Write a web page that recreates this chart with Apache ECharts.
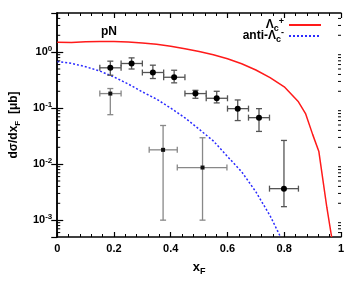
<!DOCTYPE html>
<html><head><meta charset="utf-8">
<script src="https://cdn.jsdelivr.net/npm/echarts@6/dist/echarts.min.js"></script>
<style>html,body{margin:0;padding:0;background:#fff}#c{width:360px;height:283px}</style>
</head><body><div id="c"></div>
<script>
// Theory curves
const lcPlusX   = [0, 0.05, 0.1, 0.15, 0.2, 0.25, 0.3, 0.35, 0.4, 0.45, 0.5, 0.55, 0.6, 0.65, 0.7, 0.75, 0.8, 0.85, 0.875, 0.9, 0.922, 0.95, 0.967];
const lcPlusY   = [1.5, 1.48, 1.53, 1.55, 1.55, 1.52, 1.46, 1.38, 1.28, 1.15, 1.03, 0.9, 0.76, 0.62, 0.48, 0.35, 0.24, 0.13, 0.08, 0.034, 0.0168, 0.0017, 0.0005];
const antiLcX   = [0, 0.05, 0.1, 0.15, 0.2, 0.25, 0.3, 0.35, 0.4, 0.45, 0.5, 0.55, 0.6, 0.65, 0.7, 0.75, 0.787];
const antiLcY   = [0.68, 0.63, 0.55, 0.46, 0.36, 0.27, 0.195, 0.145, 0.1, 0.067, 0.042, 0.026, 0.0137, 0.0073, 0.0032, 0.0012, 0.0005];

// Lambda_c+ data points
const dataX    = [0.187, 0.262, 0.337, 0.412, 0.487, 0.562, 0.636, 0.711, 0.799];
const dataXLo  = [0.15, 0.225, 0.30, 0.375, 0.45, 0.525, 0.60, 0.674, 0.748];
const dataXHi  = [0.225, 0.30, 0.375, 0.45, 0.525, 0.60, 0.674, 0.748, 0.85];
const dataY    = [0.525, 0.627, 0.433, 0.356, 0.182, 0.15, 0.098, 0.0676, 0.00365];
const dataYLo  = [0.387, 0.50, 0.338, 0.283, 0.15, 0.124, 0.06, 0.0384, 0.00174];
const dataYHi  = [0.69, 0.79, 0.585, 0.475, 0.208, 0.2, 0.14, 0.098, 0.0265];

// anti-Lambda_c data points
const antiX    = [0.187, 0.373, 0.512];
const antiXLo  = [0.15, 0.324, 0.423];
const antiXHi  = [0.225, 0.423, 0.598];
const antiY    = [0.182, 0.018, 0.0087];
const antiYLo  = [0.0764, 0.001, 0.001];
const antiYHi  = [0.224, 0.049, 0.0296];

// axes
const xTicks = [0, 0.2, 0.4, 0.6, 0.8, 1];
const yMinorTicks = [0.0006, 0.0007, 0.0008, 0.0009,
  0.002, 0.003, 0.004, 0.005, 0.006, 0.007, 0.008, 0.009,
  0.02, 0.03, 0.04, 0.05, 0.06, 0.07, 0.08, 0.09,
  0.2, 0.3, 0.4, 0.5, 0.6, 0.7, 0.8, 0.9,
  2, 3, 4];

const FONT = 'Liberation Sans';
const zip = (a, b) => a.map((v, i) => [v, b[i]]);
const rows = (x, y, xl, xh, yl, yh) => x.map((v, i) => [v, y[i], xl[i], xh[i], yl[i], yh[i]]);

function errRender(color, marker) {
  return function (params, api) {
    const x = api.value(0), y = api.value(1);
    const c = api.coord([x, y]);
    const pl = api.coord([api.value(2), y]), ph = api.coord([api.value(3), y]);
    const pb = api.coord([x, api.value(4)]), pt = api.coord([x, api.value(5)]);
    const cap = 3;
    const st = { stroke: color, lineWidth: 1.3 };
    const ch = [
      { type: 'line', shape: { x1: pl[0], y1: c[1], x2: ph[0], y2: c[1] }, style: st },
      { type: 'line', shape: { x1: c[0], y1: pb[1], x2: c[0], y2: pt[1] }, style: st },
      { type: 'line', shape: { x1: pl[0], y1: c[1] - cap, x2: pl[0], y2: c[1] + cap }, style: st },
      { type: 'line', shape: { x1: ph[0], y1: c[1] - cap, x2: ph[0], y2: c[1] + cap }, style: st },
      { type: 'line', shape: { x1: c[0] - cap, y1: pb[1], x2: c[0] + cap, y2: pb[1] }, style: st },
      { type: 'line', shape: { x1: c[0] - cap, y1: pt[1], x2: c[0] + cap, y2: pt[1] }, style: st }
    ];
    if (marker === 'circle') {
      ch.push({ type: 'circle', shape: { cx: c[0], cy: c[1], r: 3 }, style: { fill: '#000' } });
    } else {
      ch.push({ type: 'rect', shape: { x: c[0] - 2, y: c[1] - 2, width: 4, height: 4 }, style: { fill: '#111' } });
    }
    return { type: 'group', children: ch };
  };
}

function minorRender(params, api) {
  const v = api.value(1);
  const l = api.coord([0, v]), r = api.coord([1, v]);
  const st = { stroke: '#000', lineWidth: 1 };
  return { type: 'group', children: [
    { type: 'line', shape: { x1: l[0], y1: l[1], x2: l[0] + 3, y2: l[1] }, style: st },
    { type: 'line', shape: { x1: r[0], y1: r[1], x2: r[0] - 3, y2: r[1] }, style: st }
  ] };
}

const legendRich = {
  m: { fontFamily: FONT, fontWeight: 'bold', fontSize: 12, color: '#000', lineHeight: 16 },
  sub: { fontFamily: FONT, fontWeight: 'bold', fontSize: 9, color: '#000', verticalAlign: 'bottom', lineHeight: 16 },
  sup: { fontFamily: FONT, fontWeight: 'bold', fontSize: 9, color: '#000', verticalAlign: 'top', lineHeight: 16 }
};
const legendFmt = (name) => name === 'Λc+' ? '{m|Λ}{sub|c}{sup|+}' : '{m|anti-Λ}{sub|c}{sup|-}';

const commonX = {
  type: 'value', min: 0, max: 1, interval: 0.2,
  axisLine: { lineStyle: { color: '#000', width: 1.5 } },
  axisTick: { inside: true, length: 5, lineStyle: { color: '#000', width: 1.2 } },
  minorTick: { show: true, splitNumber: 5, length: 3, lineStyle: { color: '#000', width: 1 } },
  splitLine: { show: false }
};
const commonY = {
  type: 'log', logBase: 10, min: 0.0005, max: 5,
  axisLine: { lineStyle: { color: '#000', width: 1.5 } },
  axisTick: { inside: true, length: 6, lineStyle: { color: '#000', width: 1.2 } },
  splitLine: { show: false }
};
const legendCommon = { right: 33, align: 'right', itemWidth: 32, itemHeight: 10, formatter: legendFmt,
  textStyle: { rich: legendRich }, itemStyle: { opacity: 0 } };

const chart = echarts.init(document.getElementById('c'), null, { renderer: 'canvas' });
chart.setOption({
  animation: false,
  backgroundColor: '#fff',
  grid: { left: 55, right: 19, top: 13, bottom: 46 },
  title: { text: 'pN', left: 96, top: 21, textStyle: { fontFamily: FONT, fontWeight: 'bold', fontSize: 12, color: '#000' } },
  legend: [
    Object.assign({ data: ['Λc+'], top: 12 }, legendCommon),
    Object.assign({ data: ['anti-Λc-'], top: 23 }, legendCommon)
  ],
  xAxis: [
    Object.assign({}, commonX, {
      position: 'bottom',
      name: 'x{sub|F}', nameLocation: 'middle', nameGap: 21,
      nameTextStyle: { fontFamily: FONT, fontWeight: 'bold', fontSize: 13, color: '#000',
        rich: { sub: { fontFamily: FONT, fontWeight: 'bold', fontSize: 9, color: '#000', verticalAlign: 'bottom', lineHeight: 18 } } },
      axisLabel: { margin: 6, fontFamily: FONT, fontWeight: 'bold', fontSize: 11, color: '#000',
        formatter: (v) => { const i = xTicks.indexOf(Math.round(v * 10) / 10); return i >= 0 ? String(xTicks[i]) : ''; } }
    }),
    Object.assign({}, commonX, { position: 'top', axisLabel: { show: false } })
  ],
  yAxis: [
    Object.assign({}, commonY, {
      position: 'left',
      name: 'dσ/dx{sub|F}  [μb]', nameLocation: 'middle', nameGap: 34, nameRotate: 90,
      nameTextStyle: { fontFamily: FONT, fontWeight: 'bold', fontSize: 12, color: '#000',
        rich: { sub: { fontFamily: FONT, fontWeight: 'bold', fontSize: 8, color: '#000', verticalAlign: 'bottom', lineHeight: 16 } } },
      axisLabel: {
        margin: 5, showMinLabel: false, showMaxLabel: false,
        formatter: (v) => '{b|10}{s|' + Math.round(Math.log10(v)) + '}',
        rich: {
          b: { fontFamily: FONT, fontWeight: 'bold', fontSize: 11, color: '#000', lineHeight: 14 },
          s: { fontFamily: FONT, fontWeight: 'bold', fontSize: 8, color: '#000', verticalAlign: 'top', lineHeight: 14 }
        }
      }
    }),
    Object.assign({}, commonY, { position: 'right', axisLabel: { show: false } })
  ],
  series: [
    { name: 'Λc+', type: 'line', data: zip(lcPlusX, lcPlusY), showSymbol: false, symbol: 'none',
      lineStyle: { color: '#ff1a1a', width: 1.5 }, itemStyle: { color: '#ff1a1a' }, z: 3 },
    { name: 'anti-Λc-', type: 'line', data: zip(antiLcX, antiLcY), showSymbol: false, symbol: 'none',
      lineStyle: { color: '#2b2bff', width: 1.5, type: [2, 2] }, itemStyle: { color: '#2b2bff' }, z: 3 },
    { type: 'custom', renderItem: errRender('#555', 'circle'), data: rows(dataX, dataY, dataXLo, dataXHi, dataYLo, dataYHi),
      encode: { x: 0, y: 1 }, z: 4, silent: true },
    { type: 'custom', renderItem: errRender('#888', 'rect'), data: rows(antiX, antiY, antiXLo, antiXHi, antiYLo, antiYHi),
      encode: { x: 0, y: 1 }, z: 4, silent: true },
    { type: 'custom', renderItem: minorRender, data: yMinorTicks.map(v => [0, v]), encode: { x: 0, y: 1 }, z: 5, silent: true, clip: false }
  ]
});
</script></body></html>
